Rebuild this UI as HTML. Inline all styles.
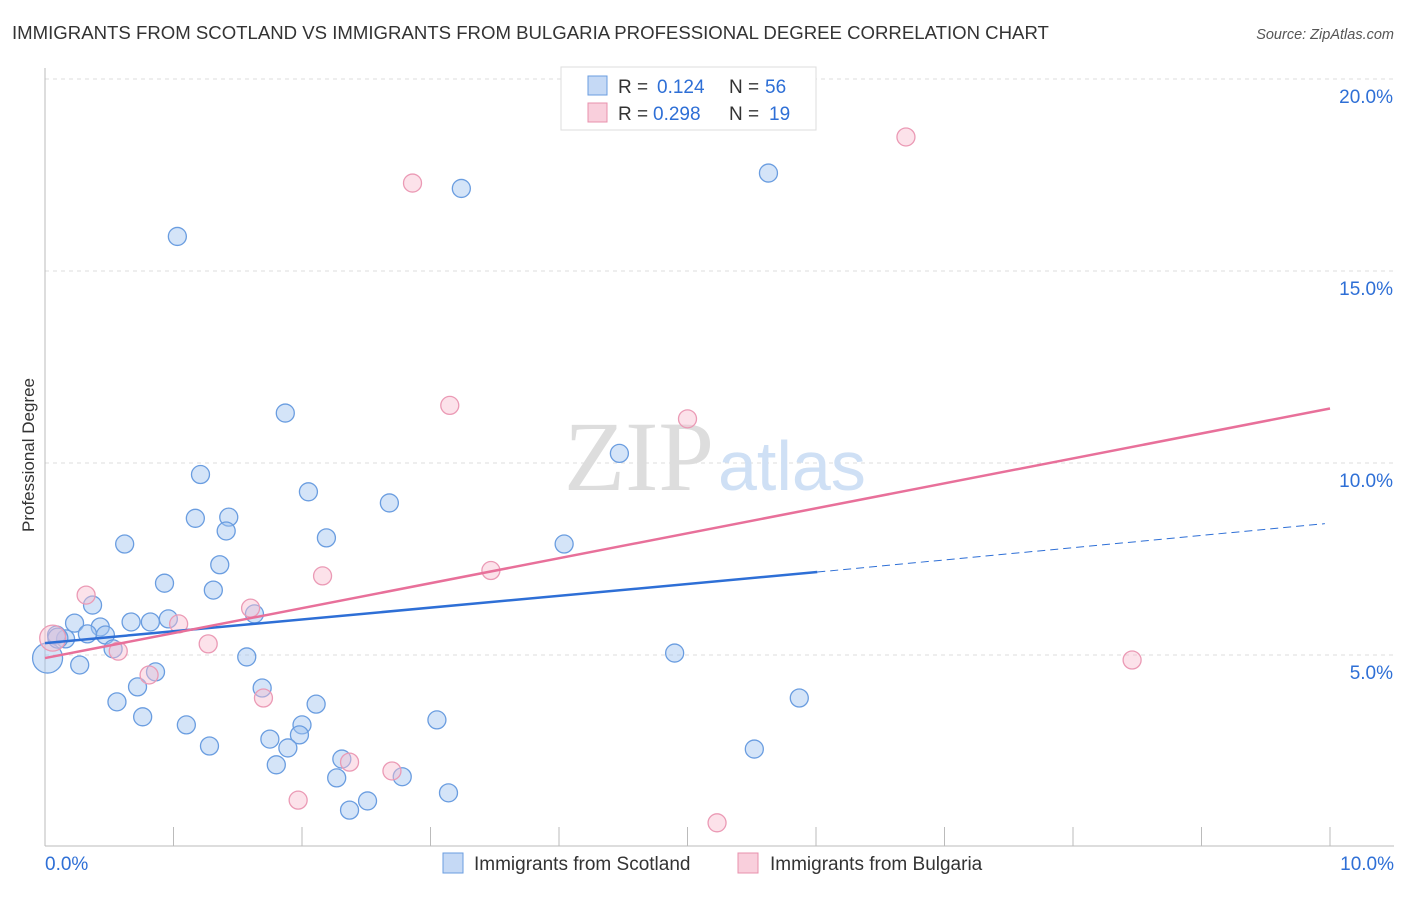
<!DOCTYPE html>
<html><head><meta charset="utf-8"><style>
body{margin:0;background:#fff;font-family:"Liberation Sans",sans-serif}
</style></head><body>
<svg width="1406" height="892" font-family="Liberation Sans, sans-serif">
<text x="12" y="39" font-size="18.6" fill="#333">IMMIGRANTS FROM SCOTLAND VS IMMIGRANTS FROM BULGARIA PROFESSIONAL DEGREE CORRELATION CHART</text>
<text x="1394" y="39" font-size="14.5" fill="#555" font-style="italic" text-anchor="end">Source: ZipAtlas.com</text>
<g id="grid"></g>
<text x="714" y="490" font-size="100" font-family="Liberation Serif, serif" fill="#ddd" text-anchor="end">ZIP</text>
<text x="718" y="490" font-size="70" fill="#cfe0f5">atlas</text>
<text x="34" y="455" font-size="17" fill="#333" text-anchor="middle" transform="rotate(-90 34 455)">Professional Degree</text>
<g id="pts"></g>
<g id="lines"></g>
<g>
<rect x="561" y="67" width="255" height="63" fill="#fff" stroke="#ddd"/>
<rect x="588" y="76" width="19" height="19" fill="#c5d9f5" stroke="#6a9de0"/>
<rect x="588" y="103" width="19" height="19" fill="#f9cfdc" stroke="#e890ad"/>
<text x="618" y="93" font-size="19" fill="#333">R =</text>
<text x="657" y="93" font-size="19" fill="#2e6fd6">0.124</text>
<text x="729" y="93" font-size="19" fill="#333">N =</text>
<text x="765" y="93" font-size="19" fill="#2e6fd6">56</text>
<text x="618" y="120" font-size="19" fill="#333">R =</text>
<text x="653" y="120" font-size="19" fill="#2e6fd6">0.298</text>
<text x="729" y="120" font-size="19" fill="#333">N =</text>
<text x="769" y="120" font-size="19" fill="#2e6fd6">19</text>
</g>
<g>
<rect x="443" y="853" width="20" height="20" fill="#c5d9f5" stroke="#6a9de0"/>
<text x="474" y="870" font-size="19" fill="#333">Immigrants from Scotland</text>
<rect x="738" y="853" width="20" height="20" fill="#f9cfdc" stroke="#e890ad"/>
<text x="770" y="870" font-size="19" fill="#333">Immigrants from Bulgaria</text>
</g>
<text x="45" y="870" font-size="19" fill="#2e6fd6">0.0%</text>
<text x="1394" y="870" font-size="19" fill="#2e6fd6" text-anchor="end">10.0%</text>
</svg>
<script>
const yTicks=[5,10,15,20];
const blueX=[1.03,3.24,5.63,1.87,1.21,4.47,2.05,2.68,1.17,1.43,1.41,0.62,2.19,4.04,1.36,0.93,1.31,0.37,0.23,0.67,0.82,0.96,0.43,1.63,0.33,0.47,0.16,0.09,0.53,0.27,0.86,1.57,0.72,4.9,1.69,0.56,2.11,0.76,1.1,2.0,3.05,5.87,1.98,1.75,1.28,1.89,5.52,2.31,1.8,2.78,2.27,3.14,2.51,2.37,0.02,0.1];
const blueY=[15.9,17.15,17.55,11.3,9.7,10.25,9.25,8.96,8.56,8.59,8.23,7.89,8.05,7.89,7.35,6.87,6.69,6.3,5.83,5.86,5.86,5.94,5.73,6.07,5.55,5.52,5.42,5.52,5.16,4.74,4.56,4.95,4.17,5.05,4.14,3.78,3.72,3.39,3.18,3.18,3.31,3.88,2.92,2.81,2.63,2.58,2.55,2.29,2.14,1.83,1.8,1.41,1.2,0.96,4.92,5.44];
const blueR=[9,9,9,9,9,9,9,9,9,9,9,9,9,9,9,9,9,9,9,9,9,9,9,9,9,9,9,9,9,9,9,9,9,9,9,9,9,9,9,9,9,9,9,9,9,9,9,9,9,9,9,9,9,9,15,10];
const pinkX=[2.86,6.7,3.15,5.0,3.47,2.16,0.32,1.6,1.04,0.06,1.27,0.57,0.81,1.7,2.37,2.7,1.97,5.23,8.46];
const pinkY=[17.29,18.49,11.5,11.15,7.2,7.06,6.56,6.22,5.81,5.44,5.29,5.1,4.48,3.88,2.21,1.98,1.22,0.63,4.87];
const pinkR=[9,9,9,9,9,9,9,9,9,13,9,9,9,9,9,9,9,9,9];
const blueLine=[[0,5.31],[6.01,7.16]], blueDash=[[6.01,7.16],[9.96,8.42]];
const pinkLine=[[0,4.92],[10,11.42]];
const X=v=>45+v/10*1285, Y=v=>847-v/5*192;
const NS='http://www.w3.org/2000/svg';
const mk=(t,a,p)=>{const e=document.createElementNS(NS,t);for(const k in a)e.setAttribute(k,a[k]);p.appendChild(e);return e;};
const grid=document.getElementById('grid');
yTicks.forEach(t=>{
 const l=mk('line',{x1:45,x2:1394,y1:Y(t),y2:Y(t),stroke:'#ddd','stroke-dasharray':'4,4'},grid);
 
 
 const tx=mk('text',{x:1393,y:Y(t)+24,'font-size':19,fill:'#2e6fd6','text-anchor':'end'},grid);
 tx.textContent=t.toFixed(1)+'%';
 
 
});
mk('line',{x1:45,x2:45,y1:68,y2:846,stroke:'#bbb'},grid);
mk('line',{x1:45,x2:1394,y1:846,y2:846,stroke:'#bbb'},grid);
for(let i=1;i<=10;i++){const t=mk('line',{x1:X(i),x2:X(i),y1:827,y2:846,stroke:'#bbb'},grid);}
const pts=document.getElementById('pts');
blueX.forEach((v,i)=>{const c=mk('circle',{cx:X(v),cy:Y(blueY[i]),r:blueR[i],fill:'rgba(160,195,240,0.45)',stroke:'#6a9de0','stroke-width':1.3},pts);

});
pinkX.forEach((v,i)=>{const c=mk('circle',{cx:X(v),cy:Y(pinkY[i]),r:pinkR[i],fill:'rgba(248,190,208,0.45)',stroke:'#eb9ab5','stroke-width':1.3},pts);

});
const ln=document.getElementById('lines');
let a=mk('line',{x1:X(blueLine[0][0]),y1:Y(blueLine[0][1]),x2:X(blueLine[1][0]),y2:Y(blueLine[1][1]),stroke:'#2e6fd6','stroke-width':2.5},ln);


a=mk('line',{x1:X(blueDash[0][0]),y1:Y(blueDash[0][1]),x2:X(blueDash[1][0]),y2:Y(blueDash[1][1]),stroke:'#2e6fd6','stroke-width':1,'stroke-dasharray':'8,5'},ln);


a=mk('line',{x1:X(pinkLine[0][0]),y1:Y(pinkLine[0][1]),x2:X(pinkLine[1][0]),y2:Y(pinkLine[1][1]),stroke:'#e8709a','stroke-width':2.5},ln);


</script>
</body></html>
